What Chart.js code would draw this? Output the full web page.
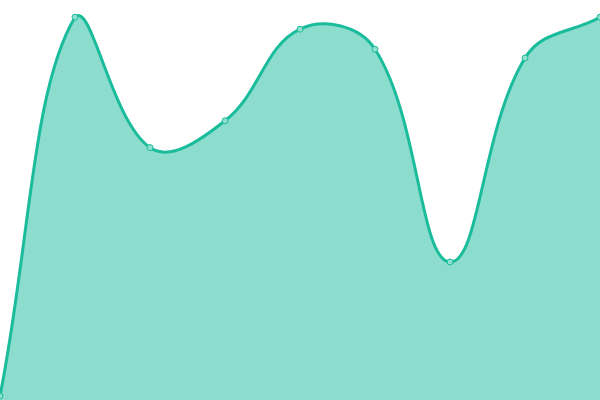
<!DOCTYPE html>
<html>
<head>
<meta charset="utf-8">
<style>
  html, body { margin: 0; padding: 0; background: #fff; }
  #wrap { width: 600px; height: 400px; }
</style>
<script src="https://cdn.jsdelivr.net/npm/chart.js@4"></script>
</head>
<body>
<div id="wrap"><canvas id="myChart" width="600" height="400"></canvas></div>
<script>
// data (y scale 0..100)
const labels = ['1', '2', '3', '4', '5', '6', '7', '8', '9'];
const values = [1, 95.7, 63.1, 69.8, 92.7, 87.7, 34.5, 85.5, 95.7];

const ctx = document.getElementById('myChart').getContext('2d');
const myChart = new Chart(ctx, {
  type: 'line',
  data: {
    labels: labels,
    datasets: [{
      data: values,
      fill: true,
      backgroundColor: 'rgba(26, 188, 156, 0.5)',
      borderColor: '#1abc9c',
      borderWidth: 3,
      tension: 0.4,
      pointRadius: 3,
      pointBorderWidth: 1,
      pointBackgroundColor: '#8fe0cf',
      pointBorderColor: '#1abc9c',
    }],
  },
  options: {
    responsive: false,
    animation: false,
    devicePixelRatio: 1,
    layout: { padding: 0, autoPadding: false },
    plugins: {
      legend: { display: false },
      tooltip: { enabled: false },
    },
    scales: {
      x: { display: false },
      y: { display: false, min: 0, max: 100 },
    },
  },
});
</script>
</body>
</html>
